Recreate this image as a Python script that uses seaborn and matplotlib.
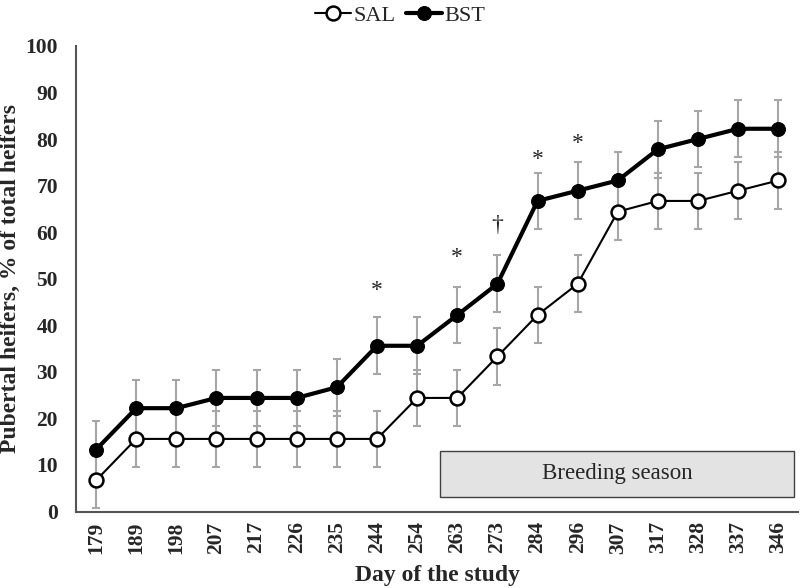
import numpy as np
import pandas as pd
import matplotlib
matplotlib.use("Agg")
import matplotlib.pyplot as plt
import seaborn as sns
from matplotlib.patches import Rectangle

# Data
days = [179, 189, 198, 207, 217, 226, 235, 244, 254, 263, 273, 284, 296, 307, 317, 328, 337, 346]
sal = [6.7, 15.6, 15.6, 15.6, 15.6, 15.6, 15.6, 15.6, 24.4, 24.4, 33.3, 42.2, 48.9, 64.4, 66.7, 66.7, 68.9, 71.1]
bst = [13.3, 22.2, 22.2, 24.4, 24.4, 24.4, 26.7, 35.6, 35.6, 42.2, 48.9, 66.7, 68.9, 71.1, 77.8, 80.0, 82.2, 82.2]
sal_se = [6.0, 6.1, 6.1, 6.1, 6.1, 6.1, 6.1, 6.1, 6.1, 6.1, 6.1, 6.1, 6.1, 6.1, 6.1, 6.1, 6.1, 6.1]
bst_se = [6.1, 6.1, 6.1, 6.1, 6.1, 6.1, 6.1, 6.1, 6.1, 6.1, 6.1, 6.1, 6.1, 6.1, 6.1, 6.1, 6.1, 6.1]
sig_days = [244, 263, 273, 284, 296]
sig_marks = ["*", "*", "\u2020", "*", "*"]
sig_y = [47.5, 54.5, 61.5, 75.5, 79.0]

sns.set_style("white")
plt.rcParams['font.family'] = ['Liberation Serif', 'DejaVu Serif']

df = pd.DataFrame({"day": days, "pos": np.arange(len(days)), "SAL": sal, "BST": bst})

fig, ax = plt.subplots(figsize=(8, 5.88), dpi=100)

grey = "#a6a6a6"
ax.errorbar(df["pos"], df["SAL"], yerr=sal_se, fmt="none", ecolor=grey, elinewidth=1.5, capsize=3, capthick=1.5, zorder=1)
ax.errorbar(df["pos"], df["BST"], yerr=bst_se, fmt="none", ecolor=grey, elinewidth=1.5, capsize=3, capthick=1.5, zorder=1)

sns.lineplot(data=df, x="pos", y="SAL", ax=ax, color="black", linewidth=1.5, marker="o",
             markersize=10, markerfacecolor="white", markeredgecolor="black", markeredgewidth=1.8,
             label="SAL", zorder=3)
sns.lineplot(data=df, x="pos", y="BST", ax=ax, color="black", linewidth=3, marker="o",
             markersize=10, markerfacecolor="black", markeredgecolor="black",
             label="BST", zorder=4)

# breeding season box
ax.add_patch(Rectangle((8.58, 3.2), 8.8, 9.9, facecolor="#e3e3e3", edgecolor="#404040", linewidth=1, zorder=0.5))
ax.text(8.58 + 4.4, 8.15, "Breeding season", ha="center", va="center", fontsize=16.5, zorder=2)

for d, m, y in zip(sig_days, sig_marks, sig_y):
    ax.text(days.index(d), y, m, ha="center", va="center", fontsize=17)

ax.set_xlim(-0.5, len(days) - 0.5)
ax.set_ylim(0, 100)
ax.set_yticks(range(0, 101, 10))
ax.set_xticks(np.arange(len(days) + 1) - 0.5, minor=False)
ax.set_xticklabels([])
ax.set_xticks(np.arange(len(days)), minor=True)
ax.set_xticklabels([str(d) for d in days], minor=True, rotation=90, fontweight="bold", fontsize=15.5)
ax.tick_params(axis="x", which="minor", length=0, pad=7)
ax.tick_params(axis="x", which="major", direction="out", length=5, width=1.5, color="#404040")
ax.tick_params(axis="y", direction="out", length=5, width=1.5, color="#404040", labelsize=15.5, pad=8)
for lbl in ax.get_yticklabels():
    lbl.set_fontweight("bold")

for s in ["top", "right"]:
    ax.spines[s].set_visible(False)
for s in ["left", "bottom"]:
    ax.spines[s].set_color("#555555")
    ax.spines[s].set_linewidth(1.5)

ax.set_xlabel("Day of the study", fontsize=17, fontweight="bold", labelpad=8)
ax.set_ylabel("Pubertal heifers, % of total heifers", fontsize=17, fontweight="bold", labelpad=3)

ax.legend().remove()
h, l = ax.get_legend_handles_labels()
fig.legend(h, l, loc="upper center", bbox_to_anchor=(0.5, 1.025), ncol=2, frameon=False,
           fontsize=16, handlelength=1.6, handletextpad=0.1, columnspacing=0.5)

fig.subplots_adjust(left=0.095, right=0.998, top=0.922, bottom=0.13)
fig.savefig("out.png", dpi=100)
